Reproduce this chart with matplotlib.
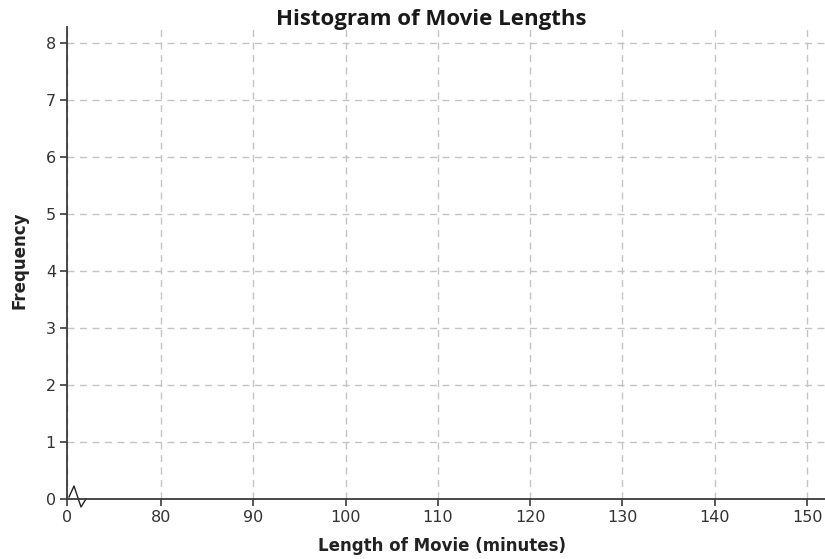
import matplotlib
matplotlib.use("Agg")
import matplotlib.pyplot as plt
from matplotlib.lines import Line2D

# ---- data ----
title = "Histogram of Movie Lengths"
x_label = "Length of Movie (minutes)"
y_label = "Frequency"
x_tick_values = [80, 90, 100, 110, 120, 130, 140, 150]
x_tick_labels = ["0", "80", "90", "100", "110", "120", "130", "140", "150"]
y_tick_values = [0, 1, 2, 3, 4, 5, 6, 7, 8]
frequencies = []  # empty histogram (blank grid to fill in)

# ---- figure ----
W, H = 825, 559
fig = plt.figure(figsize=(W / 100, H / 100), dpi=100)
ax_l, ax_r, ax_t, ax_b = 67, 825, 27, 499
ax = fig.add_axes([ax_l / W, 1 - ax_b / H, (ax_r - ax_l) / W, (ax_b - ax_t) / H])

px_per_unit = (807 - 161) / (150 - 80)
x_zero_pos = x_tick_values[0] - (161 - 67) / px_per_unit
xmax = x_tick_values[-1] + (825 - 807) / px_per_unit
ymax = y_tick_values[-1] + (43 - 27) / ((499 - 43) / 8)

ax.set_xlim(x_zero_pos, xmax)
ax.set_ylim(0, ymax)

ax.set_xticks([x_zero_pos] + x_tick_values)
ax.set_xticklabels(x_tick_labels)
ax.set_yticks(y_tick_values)
ax.set_yticklabels([str(v) for v in y_tick_values])

spine_col = "#3a3a3a"
tick_col = "#333333"
for s in ["top", "right"]:
    ax.spines[s].set_visible(False)
for s in ["left", "bottom"]:
    ax.spines[s].set_color(spine_col)
    ax.spines[s].set_linewidth(1.3)

ax.tick_params(axis="both", direction="out", length=5, width=1.2,
               color=spine_col, labelcolor=tick_col, labelsize=11.5, pad=3)

ax.grid(True, which="major", linestyle=(0, (5, 4)), color="#c4c4c4", linewidth=1.0)
ax.set_axisbelow(True)

# break symbol near origin (axes fraction coordinates)
aw, ah = ax_r - ax_l, ax_b - ax_t
pts_px = [(69, 497), (74, 486), (81, 507), (86, 499)]
bx = [(p[0] - ax_l) / aw for p in pts_px]
by = [(ax_b - p[1]) / ah for p in pts_px]
ax.add_line(Line2D(bx, by, transform=ax.transAxes, color="#222222",
                   linewidth=1.0, clip_on=False))

fig.text(431 / W, 1 - 19 / H, title, ha="center", va="center",
         fontsize=16, fontweight="bold", family="Open Sans", color="#1a1a1a")
fig.text(442 / W, 1 - 546 / H, x_label, ha="center", va="center",
         fontsize=12, fontweight="bold", family="DejaVu Sans", color="#222222")
fig.text(20 / W, 1 - 260 / H, y_label, ha="center", va="center", rotation=90,
         fontsize=12, fontweight="bold", family="DejaVu Sans", color="#222222")

fig.savefig("out.png", dpi=100)
